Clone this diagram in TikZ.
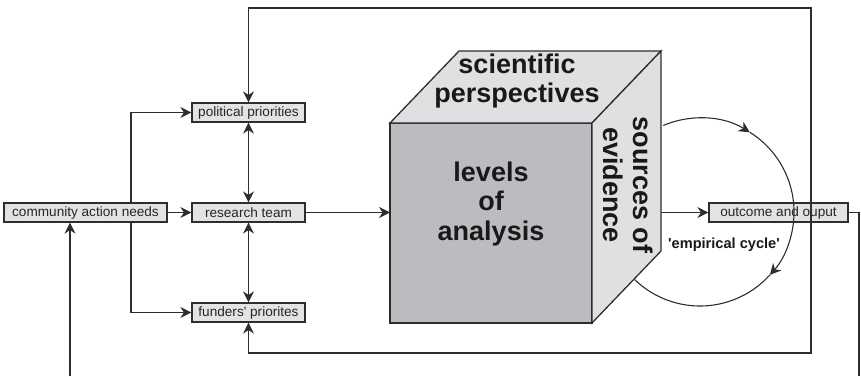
\documentclass[tikz,border=0pt]{standalone}
\usepackage{fontspec}
\setmainfont{Liberation Sans}
\usepackage{tikz}
\usetikzlibrary{arrows.meta}
\definecolor{boxgray}{HTML}{E2E3E5}
\definecolor{frontgray}{HTML}{BBBCBF}
\definecolor{sidegray}{HTML}{DFE0E2}
\definecolor{linegray}{HTML}{2E2E2E}

\tikzset{
  box/.style={draw=linegray, fill=boxgray, line width=1.2pt, minimum height=19pt,
    inner sep=0pt, text=black!85, font=\fontsize{13.6}{15}\selectfont},
  conn/.style={draw=linegray, line width=1.4pt},
  cubeface/.style={draw=linegray, line width=1.3pt},
  cubetext/.style={align=center, text=black!90, font=\bfseries\fontsize{27}{29.5}\selectfont},
  >={Stealth[length=11pt,width=11pt,inset=3.5pt]}
}

\begin{document}
\begin{tikzpicture}[x=1pt,y=1pt]
\useasboundingbox (0,0) rectangle (861,376);

% the cube
\coordinate (fbl) at (390,53);
\coordinate (fbr) at (592,53);
\coordinate (ftr) at (592,253);
\coordinate (ftl) at (390,253);
\coordinate (btl) at (459,325);
\coordinate (btr) at (661,325);
\coordinate (bbr) at (661,125);

\filldraw[cubeface, fill=frontgray] (fbl) rectangle (ftr);
\filldraw[cubeface, fill=sidegray] (ftl) -- (btl) -- (btr) -- (ftr) -- cycle;
\filldraw[cubeface, fill=sidegray] (fbr) -- (ftr) -- (btr) -- (bbr) -- cycle;

\node[cubetext] (sp) at (517,295) {scientific\\perspectives};
\node[cubetext] (loa) at (491,172) {levels\\of\\analysis};
\node[cubetext, rotate=-90] (soe) at (628,191) {sources of\\evidence};

% boxes
\node[box, minimum width=163pt] (cans) at (85.5,163.5) {community action needs};
\node[box, minimum width=113pt] (rt) at (248.5,163.5) {research team};
\node[box, minimum width=113pt] (pp) at (248.5,263.5) {political priorities};
\node[box, minimum width=113pt] (fp) at (248.5,63.5) {funders\textquotesingle{} priorites};
\node[box, minimum width=139pt] (oo) at (778.5,163.5) {outcome and ouput};

\coordinate (split) at (131,163.5);
\draw[conn,->] (cans.east) -- (rt.west);
\draw[conn,->] (cans.north -| split) |- (pp.west);
\draw[conn,->] (cans.south -| split) |- (fp.west);
\draw[conn,<->] (rt.north) -- (pp.south);
\draw[conn,<->] (rt.south) -- (fp.north);
\draw[conn,->] (rt.east) -- (rt.east -| fbl);
\draw[conn,->] (oo.west -| bbr) -- (oo.west);

% feedback loop
\coordinate (loopT) at (811,368);
\coordinate (loopB) at (811,23);
\draw[conn,<->] (pp.north) |- (loopT) -- (loopB) -| (fp.south);

\coordinate (outA) at (859,0);
\coordinate (inA) at (70,0);
\draw[conn] (oo.east) -| (outA);
\draw[conn,->] (inA) -- (inA |- cans.south);

% empirical cycle
\coordinate (cyc) at (700,164);
\draw[conn,line width=1.1pt,->] ([shift={(113:94)}]cyc) arc[start angle=113, end angle=58, radius=94];
\draw[conn,line width=1.1pt,->] ([shift={(58:94)}]cyc) arc[start angle=58, end angle=-42, radius=94];
\draw[conn,line width=1.1pt] ([shift={(-42:94)}]cyc) arc[start angle=-42, end angle=-134, radius=94];

\node[text=black!90, font=\bfseries\fontsize{14.6}{16}\selectfont] (ec) at (724,131)
  {\textquotesingle empirical cycle\textquotesingle};

\end{tikzpicture}
\end{document}
